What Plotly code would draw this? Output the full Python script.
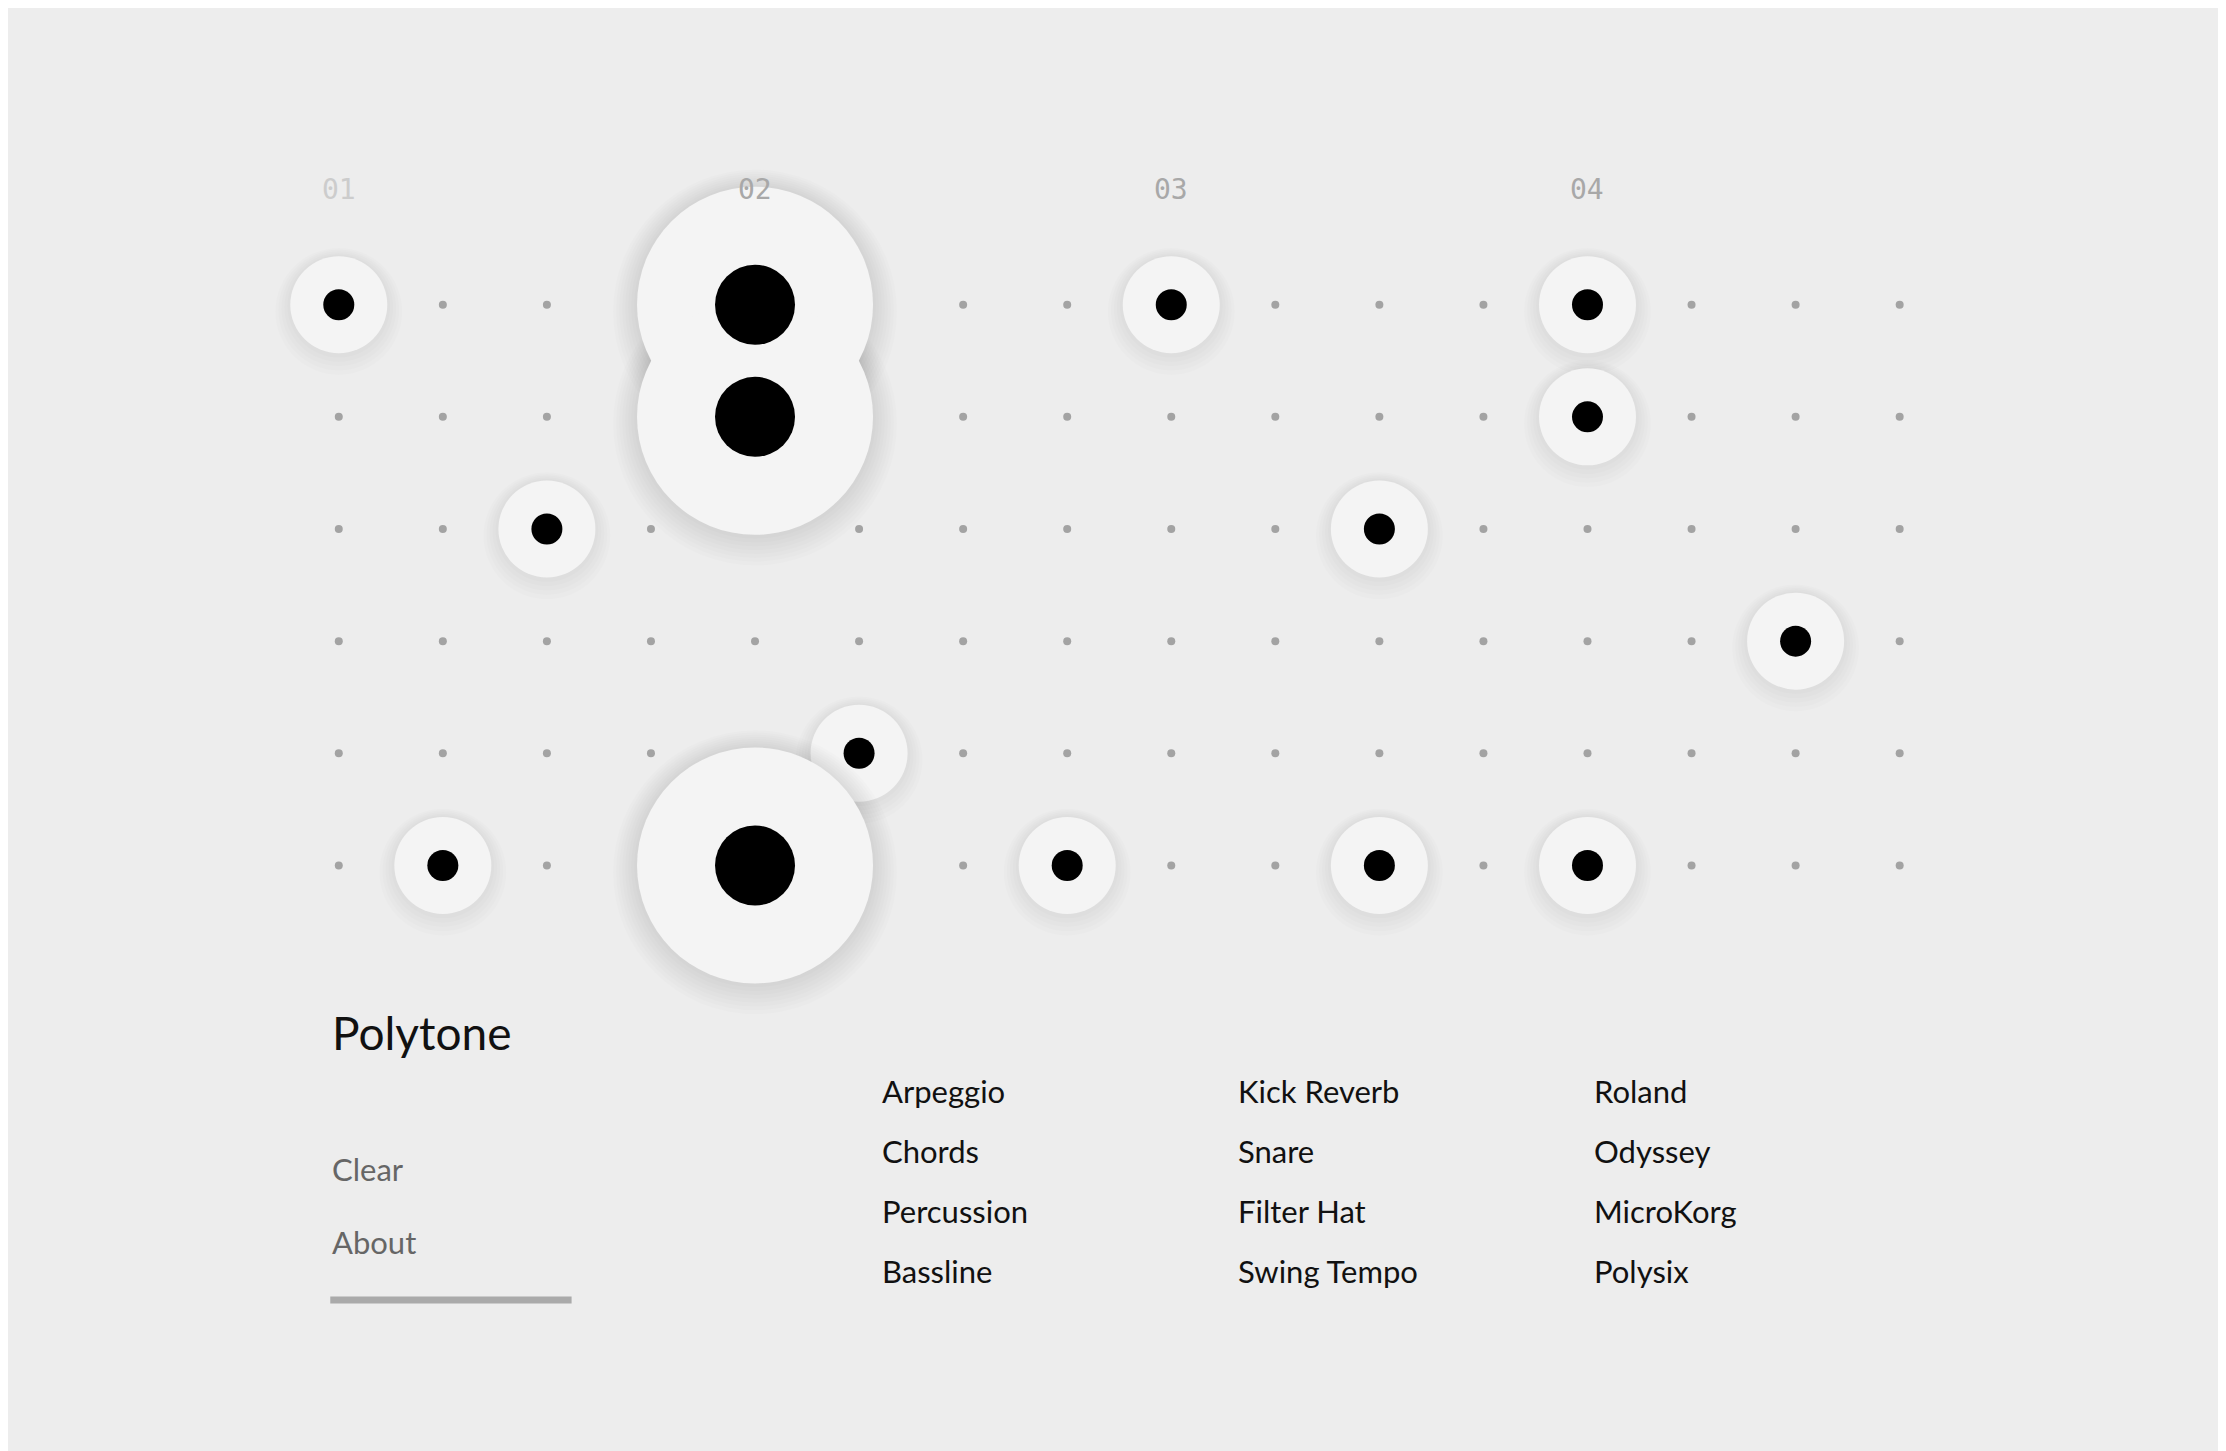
import plotly.graph_objects as go

W, H = 2226, 1451
S = W / 1568.0

n_cols, n_rows = 16, 6
small_on = [(0, 0), (8, 0), (12, 0), (12, 1), (2, 2), (10, 2), (14, 3), (5, 4),
            (1, 5), (7, 5), (10, 5), (12, 5)]
big_on = [(4, 0), (4, 1), (4, 5)]
bar_labels = ["01", "02", "03", "04"]
bar_cols = [0, 4, 8, 12]
menu = ["Clear", "About"]
col_a = ["Arpeggio", "Chords", "Percussion", "Bassline"]
col_b = ["Kick Reverb", "Snare", "Filter Hat", "Swing Tempo"]
col_c = ["Roland", "Odyssey", "MicroKorg", "Polysix"]

# grid geometry (pixels)
x0, dx = 233 * S, 73.3 * S
y0, dy = 209 * S, 79 * S
xr = [-x0 / dx, (W - x0) / dx]
yr = [(H - y0) / dy, -y0 / dy]

on = set(small_on) | set(big_on)
gx = [c for c in range(n_cols) for r in range(n_rows) if (c, r) not in on]
gy = [r for c in range(n_cols) for r in range(n_rows) if (c, r) not in on]

fig = go.Figure()
fig.add_trace(go.Scatter(x=gx, y=gy, mode="markers",
                         marker=dict(size=8, color="#a3a3a3"), hoverinfo="skip"))


def pads(cells, halo, dot, shadow_steps):
    xs = [c for c, r in cells]
    ys = [r for c, r in cells]
    # soft shadow
    for i in range(shadow_steps, 0, -1):
        fig.add_trace(go.Scatter(
            x=xs, y=[y + 0.06 * i / shadow_steps for y in ys], mode="markers",
            marker=dict(size=halo + i * 6, color="rgba(0,0,0,0.012)"),
            hoverinfo="skip"))
    fig.add_trace(go.Scatter(x=xs, y=ys, mode="markers",
                             marker=dict(size=halo, color="#f4f4f4",
                                         line=dict(width=0)),
                             hoverinfo="skip"))
    return xs, ys


sx, sy = pads(small_on, 97, 31, 5)
bx, by = pads(big_on, 236, 80, 8)
fig.add_trace(go.Scatter(x=sx, y=sy, mode="markers",
                         marker=dict(size=31, color="#000"), hoverinfo="skip"))
fig.add_trace(go.Scatter(x=bx, y=by, mode="markers",
                         marker=dict(size=80, color="#000"), hoverinfo="skip"))

ann = []
for i, (lab, c) in enumerate(zip(bar_labels, bar_cols)):
    ann.append(dict(x=c, y=-1.03, xref="x", yref="y", text=lab, showarrow=False,
                    font=dict(family="DejaVu Sans Mono", size=28,
                              color="#cccccc" if i == 0 else "#a8a8a8")))


def txt(x, y, t, size, color):
    ann.append(dict(x=x * S / W, y=1 - y * S / H, xref="paper", yref="paper",
                    text=t, showarrow=False, xanchor="left", yanchor="middle",
                    font=dict(family="Lato", size=size, color=color)))


txt(227, 722, "Polytone", 46, "#111")
for i, m in enumerate(menu):
    txt(227, 818 + i * 51, m, 31, "#666")
for col, xx in ((col_a, 614), (col_b, 865), (col_c, 1116)):
    for i, t in enumerate(col):
        txt(xx, 763 + i * 42.3, t, 31, "#111")

fig.update_layout(
    width=W, height=H, margin=dict(l=0, r=0, t=0, b=0),
    paper_bgcolor="#ededed", plot_bgcolor="#ededed", showlegend=False,
    xaxis=dict(range=xr, visible=False, fixedrange=True),
    yaxis=dict(range=yr, visible=False, fixedrange=True),
    annotations=ann,
    shapes=[dict(type="line", xref="paper", yref="paper",
                 x0=227 * S / W, x1=397 * S / W, y0=1 - 910 * S / H, y1=1 - 910 * S / H,
                 line=dict(color="#aaaaaa", width=7))],
)
fig.write_html("out.html")
